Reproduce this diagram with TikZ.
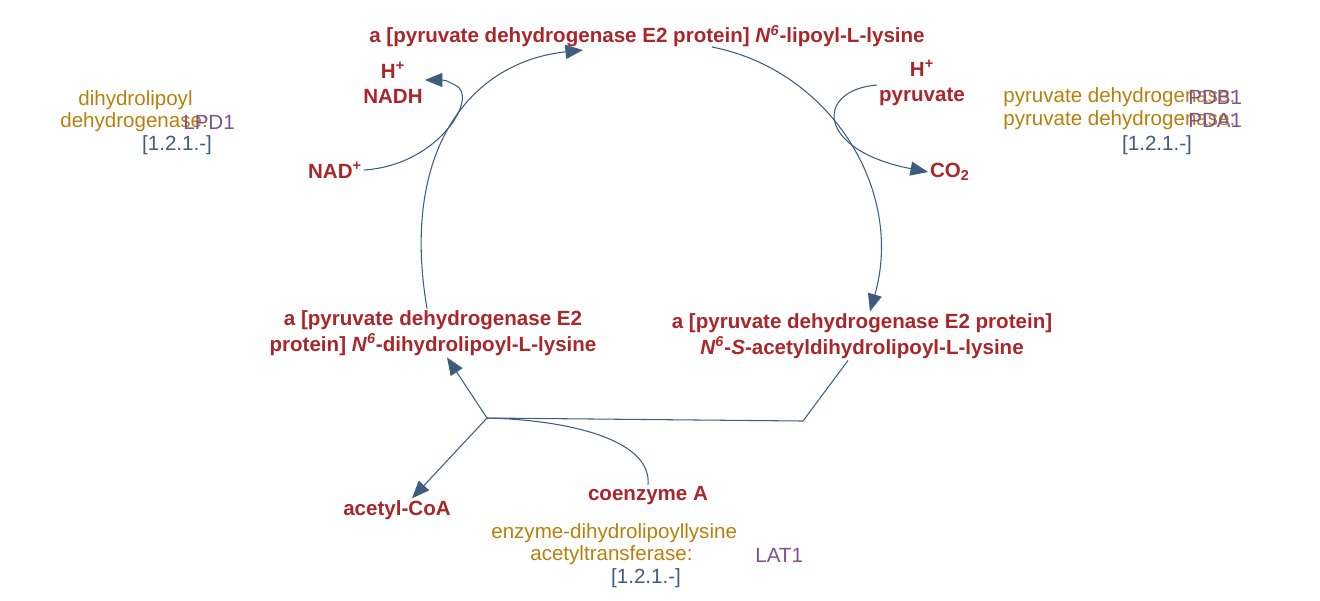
\documentclass[tikz,border=0pt]{standalone}
\usepackage{fontspec}
\setmainfont{Liberation Sans}
\usetikzlibrary{arrows.meta}
\definecolor{cpd}{RGB}{170,38,42}
\definecolor{enz}{RGB}{184,128,10}
\definecolor{gene}{RGB}{128,80,150}
\definecolor{ecnum}{RGB}{62,92,128}
\tikzset{
  met/.style={text=cpd, font=\fontsize{11.7}{14.5}\selectfont\bfseries, align=center, inner sep=1pt},
  ez/.style={text=enz, font=\fontsize{11.7}{14.5}\selectfont, inner sep=0pt, anchor=west},
  gn/.style={text=gene, font=\fontsize{11.7}{14.5}\selectfont, inner sep=0pt, anchor=west},
  ec/.style={text=ecnum, font=\fontsize{11.7}{14.5}\selectfont, inner sep=1pt},
  rxn/.style={draw=ecnum, line width=0.6pt},
  tip/.style={-{Triangle[length=10pt,width=8pt,fill=ecnum]}}
}
\newcommand{\Nsix}{\textit{N}\textsuperscript{\textit{6}}}
\begin{document}
\begin{tikzpicture}[x=0.02cm,y=-0.02cm]
  \useasboundingbox (0,0) rectangle (1320,600);

  % compounds of the cycle
  \node[met] (lipoyl) at (647,36) {a [pyruvate dehydrogenase E2 protein] \Nsix-lipoyl-L-lysine};
  \node[met] (dihydro) at (433,333) {a [pyruvate dehydrogenase E2\\protein] \Nsix-dihydrolipoyl-L-lysine};
  \node[met] (acetyl) at (862,336) {a [pyruvate dehydrogenase E2 protein]\\\Nsix-\textit{S}-acetyldihydrolipoyl-L-lysine};

  % side compounds
  \node[met] (nadh) at (393,83) {H\textsuperscript{+}\\NADH};
  \node[met] (nad) at (335,170) {NAD\textsuperscript{+}};
  \node[met] (pyr) at (922,83) {H\textsuperscript{+}\\pyruvate};
  \node[met] (co2) at (950,172) {CO\textsubscript{2}};
  \node[met] (acoa) at (397,510) {acetyl-CoA};
  \node[met] (coa) at (648,496) {coenzyme A};

  % enzymes
  \node[ez] (lpdA) at (78,100) {dihydrolipoyl};
  \node[ez] (lpdB) at (60,122) {dehydrogenase:};
  \node[gn] (lpd1) at (183,122) {LPD1};
  \node[ec] (lpdec) at (177,145) {[1.2.1.-]};
  \node[ez] (pdbA) at (1003,97) {pyruvate dehydrogenase:};
  \node[gn] (pdb1) at (1188,97) {PDB1};
  \node[ez] (pdaA) at (1003,120) {pyruvate dehydrogenase:};
  \node[gn] (pda1) at (1188,120) {PDA1};
  \node[ec] (pdec) at (1157,145) {[1.2.1.-]};
  \node[ez] (latA) at (491,533) {enzyme-dihydrolipoyllysine};
  \node[ez] (latB) at (530,555) {acetyltransferase:};
  \node[gn] (lat1) at (755,555) {LAT1};
  \node[ec] (latec) at (646,578) {[1.2.1.-]};

  % cycle
  \draw[rxn, tip] (dihydro.north -| 427,0) .. controls (400,150) and (470,62) .. (583,50);
  \draw[rxn, tip] (712,47) .. controls (830,70) and (905,190) .. (acetyl.north -| 870,0);
  \draw[rxn, tip] (nad.east) .. controls (440,165) and (480,95) .. (455,85)
        .. controls (445,80) .. (nadh.east |- 0,80);
  \draw[rxn, tip] (pyr.west |- 0,85) .. controls (815,90) and (815,150) .. (co2.west);

  % acetyl transfer
  \coordinate (mid) at (487,418);
  \draw[rxn] (acetyl.south -| 848,0) -- (803,421) -- (mid);
  \draw[rxn, tip] (mid) -- (dihydro.south -| 447,0);
  \draw[rxn, tip] (mid) -- (acoa.north -| 412,0);
  \draw[rxn] (coa.north) .. controls (652,440) and (570,420) .. (mid);
\end{tikzpicture}
\end{document}
